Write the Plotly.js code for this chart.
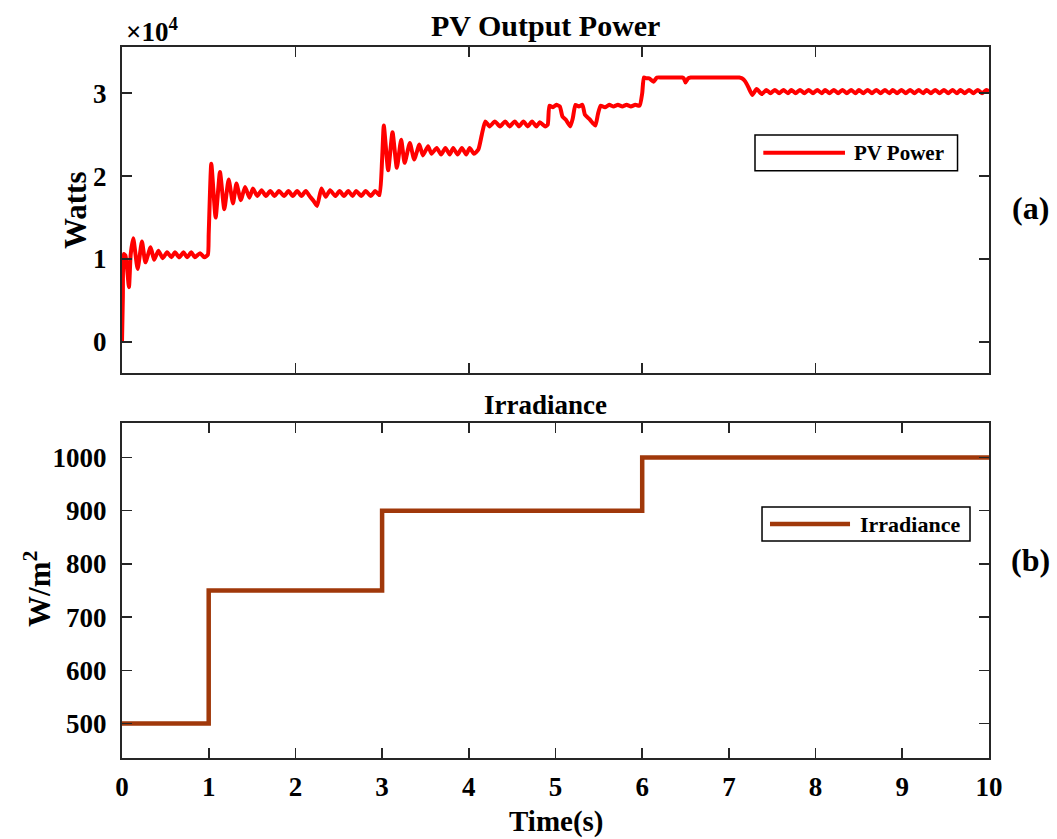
<!DOCTYPE html>
<html>
<head>
<meta charset="utf-8">
<script src="https://cdn.plot.ly/plotly-3.0.1.min.js"></script>
<style>html,body{margin:0;padding:0;background:#fff;}#chart{width:1057px;height:839px;}</style>
</head>
<body>
<div id="chart"></div>
<script>
// ---- Data ----
// PV output power (units of 10^4 W) vs time (s)
const powerTime = [
  0.00,0.01,0.02,0.04,0.08,0.10,0.13,0.18,0.23,0.27,0.33,0.37,0.42,0.47,0.52,0.57,0.61,0.66,0.71,0.75,0.80,0.84,0.90,0.95,0.99,
  1.00,1.03,1.08,1.13,1.18,1.23,1.28,1.32,1.37,1.42,1.47,1.51,1.56,1.61,1.66,1.71,1.76,1.81,1.87,1.92,1.97,2.02,2.07,2.12,2.17,2.21,2.25,2.30,2.35,2.40,2.46,2.51,2.56,2.61,2.66,2.70,2.76,2.81,2.87,2.92,2.97,
  3.00,3.02,3.07,3.12,3.17,3.22,3.26,3.32,3.37,3.43,3.47,3.53,3.57,3.63,3.68,3.73,3.78,3.82,3.87,3.92,3.97,4.01,4.06,4.11,4.15,4.19,
  4.24,4.30,4.36,4.42,4.47,4.53,4.58,4.63,4.68,4.73,4.78,4.82,4.88,4.91,
  4.93,4.97,5.01,5.05,5.08,5.12,5.17,5.20,5.23,5.27,5.31,5.34,5.39,5.43,5.46,5.49,5.52,5.57,5.62,5.67,5.72,5.77,5.82,5.87,5.92,5.97,
  6.00,6.02,6.05,6.08,6.13,6.17,6.22,6.30,6.40,6.46,6.48,6.50,6.53,6.56,6.65,6.75,6.85,6.95,7.05,7.12,7.15,7.19,7.23,7.27,7.32,7.38,
  7.43,7.48,7.53,7.58,7.63,7.68,7.72,7.77,7.82,7.87,7.92,7.97,8.02,8.07,8.11,8.16,8.21,8.26,8.31,8.36,8.41,8.46,8.50,8.55,
  8.60,8.65,8.70,8.75,8.80,8.85,8.89,8.94,8.99,9.04,9.09,9.14,9.19,9.24,9.28,9.33,9.38,9.43,9.48,9.53,9.58,9.63,9.67,9.72,
  9.77,9.82,9.87,9.92,9.97,10.00
];
const powerE4 = [
  0.00,0.55,1.06,1.04,0.66,1.05,1.25,0.88,1.21,0.96,1.14,0.99,1.10,1.01,1.08,1.02,1.08,1.02,1.08,1.02,1.08,1.02,1.07,1.02,1.05,
  1.30,2.15,1.50,2.05,1.60,1.96,1.67,1.91,1.71,1.87,1.74,1.85,1.76,1.83,1.76,1.82,1.76,1.82,1.76,1.82,1.76,1.82,1.76,1.82,1.75,1.70,1.64,1.85,1.75,1.83,1.76,1.82,1.76,1.82,1.76,1.82,1.76,1.82,1.76,1.82,1.77,
  2.20,2.61,2.07,2.53,2.10,2.44,2.16,2.40,2.20,2.38,2.25,2.36,2.27,2.34,2.26,2.34,2.26,2.34,2.26,2.34,2.26,2.34,2.27,2.32,2.50,2.66,
  2.60,2.66,2.60,2.66,2.60,2.66,2.60,2.66,2.60,2.66,2.60,2.65,2.60,2.62,
  2.85,2.83,2.86,2.84,2.72,2.68,2.60,2.70,2.86,2.84,2.86,2.74,2.69,2.64,2.61,2.75,2.85,2.83,2.86,2.84,2.86,2.84,2.86,2.84,2.86,2.85,
  3.00,3.19,3.18,3.18,3.14,3.19,3.19,3.19,3.19,3.19,3.18,3.13,3.18,3.19,3.19,3.19,3.19,3.19,3.19,3.19,3.18,3.14,3.06,2.98,3.05,2.99,
  3.04,3.00,3.04,3.00,3.04,3.00,3.04,3.00,3.04,3.00,3.04,3.00,3.04,3.00,3.04,3.00,3.04,3.00,3.04,3.00,3.04,3.00,3.04,3.00,
  3.04,3.00,3.04,3.00,3.04,3.00,3.04,3.00,3.04,3.00,3.04,3.00,3.04,3.00,3.04,3.00,3.04,3.00,3.04,3.00,3.04,3.00,3.04,3.00,
  3.04,3.00,3.04,3.00,3.04,3.02
];
// Irradiance (W/m^2) step changes
const irrTime  = [0, 1, 3, 6, 10];
const irrValue = [500, 750, 900, 1000, 1000];
// Tick labels
const topYTicks = [0, 1, 2, 3];
const topXTicks = [0, 2, 4, 6, 8, 10];
const botYTicks = [500, 600, 700, 800, 900, 1000];
const botXTicks = [0, 1, 2, 3, 4, 5, 6, 7, 8, 9, 10];

const FONT = '"Liberation Serif", "Times New Roman", Times, serif';
const AX = '#262626';

const traces = [
  {x: powerTime, y: powerE4, type: 'scatter', mode: 'lines', name: 'PV Power',
   xaxis: 'x', yaxis: 'y', line: {color: '#ff0000', width: 4, shape: 'spline', smoothing: 0.5}},
  {x: irrTime, y: irrValue, type: 'scatter', mode: 'lines', name: 'Irradiance',
   xaxis: 'x2', yaxis: 'y2', line: {color: '#a0380a', width: 4.5, shape: 'hv'}}
];

function axisBase() {
  return {showline: true, linecolor: AX, linewidth: 2, mirror: 'ticks',
          ticks: 'inside', ticklen: 10, tickwidth: 1.6, tickcolor: AX,
          showgrid: false, zeroline: false,
          tickfont: {family: FONT, size: 27, color: '#000', weight: 'bold'}};
}

function note(text, x, y, size, opts) {
  return Object.assign({text: text, xref: 'paper', yref: 'paper', x: x, y: y,
    xanchor: 'center', yanchor: 'middle', showarrow: false,
    font: {family: FONT, size: size, color: '#000', weight: 'bold'}}, opts || {});
}

const layout = {
  width: 1057, height: 839,
  margin: {l: 122, r: 68, t: 47, b: 81},
  paper_bgcolor: '#fff', plot_bgcolor: '#fff',
  font: {family: FONT, color: '#000', weight: 'bold'},
  showlegend: false,
  xaxis: Object.assign(axisBase(), {domain: [0, 1], anchor: 'y', range: [0, 10],
          tickmode: 'array', tickvals: topXTicks, showticklabels: false}),
  yaxis: Object.assign(axisBase(), {domain: [0.5415, 1], anchor: 'x', range: [-0.376, 3.558],
          tickmode: 'array', tickvals: topYTicks, ticktext: topYTicks.map(String), ticklabelstandoff: 8}),
  xaxis2: Object.assign(axisBase(), {domain: [0, 1], anchor: 'y2', range: [0, 10],
          tickmode: 'array', tickvals: botXTicks, ticktext: botXTicks.map(String), ticklabelstandoff: 4}),
  yaxis2: Object.assign(axisBase(), {domain: [0, 0.4712], anchor: 'x2', range: [435.2, 1064.8],
          tickmode: 'array', tickvals: botYTicks, ticktext: botYTicks.map(String), ticklabelstandoff: 8}),
  shapes: [
    // legend (a)
    {type: 'rect', xref: 'paper', yref: 'paper', x0: 0.7301, x1: 0.9637, y0: 0.8260, y1: 0.8762,
     line: {color: '#000', width: 1.5}, fillcolor: '#fff', layer: 'above'},
    {type: 'line', xref: 'paper', yref: 'paper', x0: 0.7397, x1: 0.8339, y0: 0.8512, y1: 0.8512,
     line: {color: '#ff0000', width: 4}},
    // legend (b)
    {type: 'rect', xref: 'paper', yref: 'paper', x0: 0.7382, x1: 0.9781, y0: 0.3052, y1: 0.3530,
     line: {color: '#000', width: 1.5}, fillcolor: '#fff', layer: 'above'},
    {type: 'line', xref: 'paper', yref: 'paper', x0: 0.7474, x1: 0.8397, y0: 0.3291, y1: 0.3291,
     line: {color: '#a0380a', width: 4.5}}
  ],
  annotations: [
    note('PV Output Power', 0.4879, 1.0309, 30),
    note('Irradiance', 0.4879, 0.4965, 27),
    note('\u00d710<sup>4</sup>', 0.0023, 1.0239, 27, {xanchor: 'left'}),
    note('(a)', 1.0484, 0.7736, 32),
    note('(b)', 1.0484, 0.2785, 32),
    note('Watts', -0.0542, 0.7707, 31, {textangle: -90}),
    note('W/m<sup>2</sup>', -0.0969, 0.2377, 31, {textangle: -90}),
    note('Time(s)', 0.5017, -0.0895, 29),
    note('PV Power', 0.8420, 0.8512, 21, {xanchor: 'left'}),
    note('Irradiance', 0.8489, 0.3291, 22, {xanchor: 'left'})
  ]
};

Plotly.newPlot('chart', traces, layout, {displayModeBar: false, staticPlot: true});
</script>
</body>
</html>
